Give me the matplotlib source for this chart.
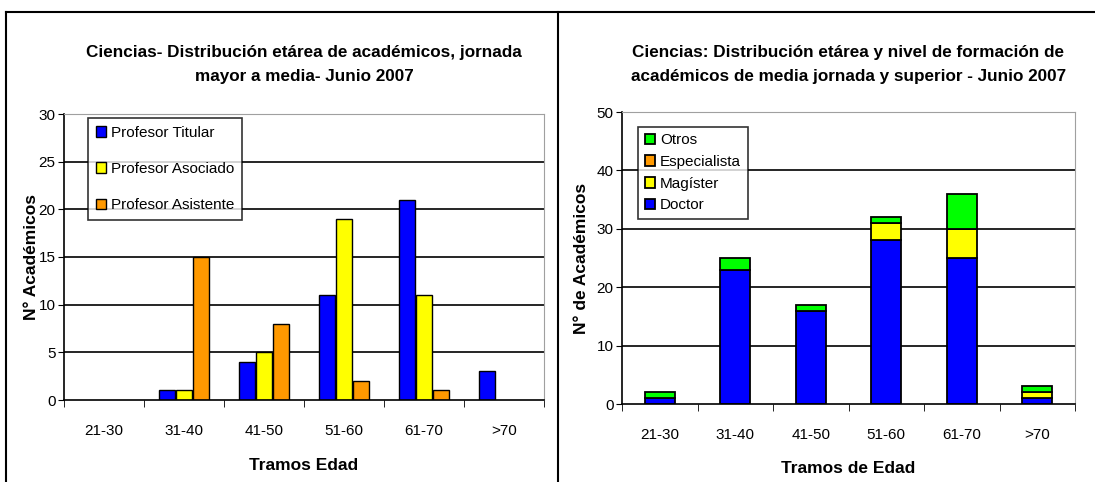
import matplotlib.pyplot as plt
import numpy as np
from matplotlib.lines import Line2D

# datos
tramos = ["21-30", "31-40", "41-50", "51-60", "61-70", ">70"]

titular = [0, 1, 4, 11, 21, 3]
asociado = [0, 1, 5, 19, 11, 0]
asistente = [0, 15, 8, 2, 1, 0]

doctor = [1, 23, 16, 28, 25, 1]
magister = [0, 0, 0, 3, 5, 1]
especialista = [0, 0, 0, 0, 0, 0]
otros = [1, 2, 1, 1, 6, 1]

AZUL = "#0000FF"
AMARILLO = "#FFFF00"
NARANJA = "#FF9900"
VERDE = "#00FF00"

plt.rcParams["font.family"] = ["Liberation Sans", "DejaVu Sans"]

W, H = 1095, 482
fig = plt.figure(figsize=(W / 100, H / 100), dpi=100)


def caja(x0, y0, x1, y1):
    # pasar pixeles a fraccion de figura
    return [x0 / W, 1 - y1 / H, (x1 - x0) / W, (y1 - y0) / H]


def preparar_ejes(ax, ymax, paso):
    n = len(tramos)
    ax.set_xlim(-0.5, n - 0.5)
    ax.set_ylim(0, ymax)
    for y in np.arange(paso, ymax, paso):
        ax.axhline(y, color="black", lw=1.2, zorder=0)
    ax.set_yticks(np.arange(0, ymax + 1, paso))
    ax.set_xticks(range(n))
    ax.set_xticklabels(tramos, fontsize=11)
    ax.set_xticks(np.arange(-0.5, n, 1), minor=True)
    ax.tick_params(axis="x", which="major", length=0, pad=17)
    ax.tick_params(axis="x", which="minor", length=5, direction="out", color="black")
    ax.tick_params(axis="y", length=4, direction="out", labelsize=11, pad=2)
    ax.spines["top"].set_color("#a0a0a0")
    ax.spines["right"].set_color("#a0a0a0")
    ax.spines["left"].set_linewidth(1.2)
    ax.spines["bottom"].set_linewidth(1.2)


# * Grafico izquierdo: barras agrupadas
ax1 = fig.add_axes(caja(64, 114, 544, 400))
preparar_ejes(ax1, 30, 5)
x = np.arange(len(tramos))
ancho = 0.2
series1 = [("Profesor Titular", titular, AZUL),
           ("Profesor Asociado", asociado, AMARILLO),
           ("Profesor Asistente", asistente, NARANJA)]
for i, (nombre, vals, color) in enumerate(series1):
    pos = x + (i - 1) * (ancho + 0.013)
    alto = np.array(vals, dtype=float)
    mask = alto > 0
    ax1.bar(pos[mask], alto[mask], width=ancho, color=color, edgecolor="black",
            linewidth=1, zorder=2, label=nombre)
ax1.set_title("Ciencias- Distribución etárea de académicos, jornada\nmayor a media- Junio 2007",
              fontsize=12.3, fontweight="bold", linespacing=1.75, pad=24)
ax1.set_xlabel("Tramos Edad", fontsize=12.5, fontweight="bold", labelpad=15)
ax1.set_ylabel("N° Académicos", fontsize=12.5, fontweight="bold")
ax1.yaxis.set_label_coords(-0.053, 0.5)
leg1 = ax1.legend(loc="upper left", bbox_to_anchor=(0.05, 0.985), fontsize=11,
                  handlelength=0.7, handleheight=0.7, handletextpad=0.3,
                  labelspacing=1.45, borderpad=0.5, frameon=True, fancybox=False,
                  borderaxespad=0)
leg1.get_frame().set_edgecolor("black")
leg1.get_frame().set_linewidth(1.2)

# * Grafico derecho: barras apiladas
ax2 = fig.add_axes(caja(622, 112, 1075, 404))
preparar_ejes(ax2, 50, 10)
base = np.zeros(len(tramos))
series2 = [("Doctor", doctor, AZUL),
           ("Magíster", magister, AMARILLO),
           ("Especialista", especialista, NARANJA),
           ("Otros", otros, VERDE)]
for nombre, vals, color in series2:
    ax2.bar(x, vals, bottom=base, width=0.4, color=color, edgecolor="black",
            linewidth=1.3, zorder=2, label=nombre)
    base = base + np.array(vals)
ax2.set_title("Ciencias: Distribución etárea y nivel de formación de\nacadémicos de media jornada y superior - Junio 2007",
              fontsize=12.3, fontweight="bold", linespacing=1.75, pad=22)
ax2.set_xlabel("Tramos de Edad", fontsize=12.5, fontweight="bold", labelpad=14)
ax2.set_ylabel("N° de Académicos", fontsize=12.5, fontweight="bold")
ax2.yaxis.set_label_coords(-0.073, 0.5)
h, l = ax2.get_legend_handles_labels()
leg2 = ax2.legend(h[::-1], l[::-1], loc="upper left", bbox_to_anchor=(0.035, 0.95),
                  fontsize=11, handlelength=0.7, handleheight=0.7, handletextpad=0.3,
                  labelspacing=0.5, borderpad=0.45, frameon=True, fancybox=False,
                  borderaxespad=0)
leg2.get_frame().set_edgecolor("black")
leg2.get_frame().set_linewidth(1.2)

# marco exterior de la imagen
fig.add_artist(Line2D([6 / W, 1], [1 - 12 / H, 1 - 12 / H], color="black", lw=1.5))
fig.add_artist(Line2D([6 / W, 6 / W], [0, 1 - 12 / H], color="black", lw=1.5))
fig.add_artist(Line2D([558 / W, 558 / W], [0, 1 - 12 / H], color="black", lw=1.5))

fig.savefig("out.png", dpi=100)
